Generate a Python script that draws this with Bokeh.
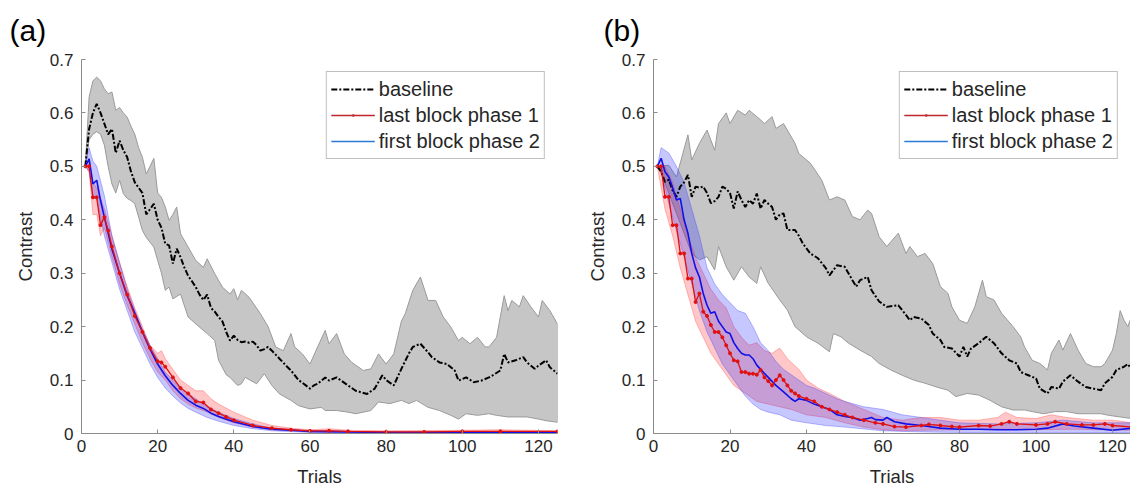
from bokeh.plotting import figure
from bokeh.layouts import row
from bokeh.models import Legend, LegendItem, FixedTicker
from bokeh.embed import file_html
from bokeh.resources import INLINE

# ---------------- Panel (a) data ----------------
a_base_t = [1,2,3,4,5,6,7,8,9,10,11,12,13,14,15,16,17,18,19,20,21,22,23,24,25,26,27,28,29,30,31,32,33,34,35,36,37,38,39,40,41,42,43,44,45,46,47,48,49,50,52,54,55,57,58,60,61,62,64,65,67,68,70,72,73,75,77,79,80,82,84,86,87,89,91,92,94,96,98,99,101,103,105,107,108,110,111,112,114,116,117,119,120,122,123,125]
a_base_y = [0.50,0.57,0.60,0.617,0.60,0.58,0.56,0.57,0.525,0.548,0.53,0.517,0.49,0.47,0.46,0.45,0.41,0.42,0.43,0.40,0.385,0.355,0.352,0.318,0.346,0.33,0.311,0.295,0.285,0.274,0.26,0.25,0.26,0.235,0.228,0.218,0.21,0.19,0.174,0.183,0.175,0.171,0.172,0.170,0.172,0.165,0.155,0.158,0.162,0.155,0.14,0.125,0.118,0.10,0.095,0.084,0.09,0.093,0.105,0.099,0.105,0.10,0.09,0.08,0.078,0.074,0.084,0.109,0.10,0.09,0.121,0.15,0.162,0.168,0.152,0.143,0.133,0.13,0.118,0.099,0.105,0.096,0.099,0.105,0.109,0.118,0.149,0.133,0.137,0.143,0.133,0.121,0.127,0.137,0.124,0.112]
a_base_up_t = [1,2,3,4,5,6,7,8,9,10,11,12,13,14,15,16,17,18,19,20,21,22,23,24,25,26,28,30,32,33,35,37,39,40,41,42,44,47,49,51,53,55,56,58,60,62,64,65,67,69,71,74,76,78,80,82,84,85,87,89,91,93,95,97,99,100,102,104,106,107,109,111,112,113,115,116,118,120,121,123,125]
a_base_up = [0.5,0.63,0.66,0.667,0.66,0.645,0.636,0.639,0.605,0.61,0.60,0.592,0.575,0.56,0.535,0.517,0.486,0.50,0.515,0.45,0.442,0.424,0.399,0.41,0.424,0.374,0.349,0.324,0.311,0.327,0.299,0.274,0.261,0.271,0.25,0.268,0.255,0.224,0.20,0.162,0.155,0.187,0.162,0.149,0.13,0.162,0.193,0.168,0.187,0.149,0.133,0.118,0.121,0.149,0.13,0.149,0.21,0.224,0.268,0.293,0.249,0.249,0.218,0.199,0.174,0.18,0.168,0.18,0.162,0.162,0.18,0.258,0.23,0.249,0.237,0.258,0.237,0.218,0.249,0.23,0.205]
a_base_lo_t = [1,2,3,4,5,6,7,8,9,10,11,12,13,14,15,16,17,19,20,21,22,23,24,26,28,31,33,35,36,38,39,41,42,43,46,48,50,52,55,57,60,63,64,67,70,72,76,78,81,84,86,88,91,94,97,99,101,104,107,109,112,114,117,120,122,125]
a_base_lo = [0.5,0.55,0.56,0.565,0.56,0.54,0.50,0.467,0.45,0.474,0.449,0.44,0.436,0.43,0.405,0.38,0.367,0.349,0.324,0.30,0.268,0.274,0.252,0.261,0.218,0.199,0.187,0.174,0.137,0.11,0.105,0.09,0.093,0.105,0.093,0.112,0.09,0.074,0.062,0.052,0.046,0.049,0.043,0.043,0.04,0.037,0.043,0.059,0.056,0.062,0.056,0.062,0.049,0.043,0.034,0.027,0.037,0.034,0.037,0.034,0.031,0.031,0.031,0.027,0.024,0.021]

a_red_t = [1,2,3,4,5,6,7,8,10,12,14,16,18,20,21,22,24,26,28,30,32,34,36,38,40,45,50,55,60,65,70,80,90,100,110,125]
a_red_y = [0.5,0.5,0.442,0.442,0.39,0.405,0.38,0.35,0.30,0.26,0.22,0.19,0.16,0.135,0.133,0.125,0.105,0.085,0.075,0.06,0.058,0.045,0.038,0.031,0.025,0.015,0.010,0.007,0.005,0.005,0.004,0.003,0.003,0.004,0.004,0.004]
a_red_up_t = [1,2,3,4,6,8,10,12,14,16,18,20,21,22,24,26,28,30,32,34,36,40,45,50,55,60,65,70,80,100,110,125]
a_red_up = [0.5,0.51,0.47,0.46,0.42,0.37,0.32,0.275,0.235,0.20,0.165,0.15,0.155,0.14,0.12,0.10,0.09,0.08,0.08,0.065,0.055,0.04,0.025,0.015,0.01,0.007,0.009,0.006,0.005,0.006,0.007,0.005]
a_red_lo_t = [1,2,3,4,5,6,8,10,12,14,16,18,20,22,24,26,28,30,33,36,40,45,50,60,125]
a_red_lo = [0.5,0.49,0.41,0.41,0.37,0.385,0.33,0.28,0.24,0.205,0.17,0.14,0.115,0.10,0.08,0.065,0.055,0.048,0.04,0.03,0.02,0.012,0.007,0.003,0.001]

a_blue_t = [1,2,3,4,5,6,7,8,10,12,14,16,18,20,22,24,26,28,30,32,34,36,40,45,50,55,60,70,80,100,125]
a_blue_y = [0.5,0.514,0.467,0.474,0.436,0.405,0.375,0.345,0.30,0.258,0.225,0.19,0.158,0.13,0.108,0.09,0.075,0.062,0.053,0.047,0.038,0.032,0.022,0.013,0.008,0.006,0.004,0.003,0.002,0.002,0.002]
a_blue_up_t = [1,2,3,4,6,8,10,12,14,16,18,20,22,24,26,28,30,33,36,40,45,50,60,80,125]
a_blue_up = [0.5,0.535,0.51,0.50,0.445,0.37,0.32,0.27,0.23,0.195,0.165,0.14,0.115,0.10,0.085,0.075,0.065,0.05,0.04,0.028,0.018,0.01,0.005,0.003,0.003]
a_blue_lo_t = [1,2,3,4,6,8,10,12,14,16,18,20,22,24,26,28,30,33,36,40,45,50,60,125]
a_blue_lo = [0.5,0.49,0.44,0.44,0.37,0.32,0.27,0.23,0.19,0.16,0.13,0.105,0.085,0.07,0.057,0.047,0.04,0.03,0.023,0.015,0.009,0.005,0.002,0.001]

# ---------------- Panel (b) data ----------------
b_base_t = [1,2,3,4,5,6,7,8,9,10,11,12,13,14,15,16,17,18,19,20,21,22,23,24,25,26,27,28,29,30,31,32,33,34,35,37,38,39,41,43,45,46,48,50,52,53,54,56,57,59,61,64,66,67,68,70,72,73,75,76,78,80,81,82,83,85,87,89,91,93,95,96,98,100,101,103,104,106,107,109,111,113,115,117,118,120,121,123,124,125]
b_base_y = [0.5,0.49,0.471,0.475,0.455,0.443,0.462,0.47,0.484,0.443,0.462,0.46,0.462,0.45,0.431,0.435,0.443,0.462,0.458,0.45,0.421,0.453,0.437,0.424,0.437,0.43,0.449,0.421,0.437,0.43,0.424,0.40,0.41,0.412,0.381,0.381,0.37,0.356,0.337,0.328,0.31,0.296,0.315,0.312,0.287,0.275,0.287,0.293,0.268,0.247,0.237,0.24,0.222,0.212,0.218,0.215,0.203,0.187,0.175,0.162,0.159,0.144,0.162,0.144,0.159,0.169,0.181,0.169,0.15,0.137,0.131,0.115,0.109,0.103,0.084,0.075,0.087,0.084,0.097,0.109,0.097,0.087,0.084,0.081,0.094,0.106,0.119,0.125,0.13,0.12]
b_base_up_t = [1,4,6,9,10,12,14,16,17,19,20,22,24,25,27,28,29,31,32,34,37,38,41,44,46,48,50,52,54,56,57,59,61,64,66,67,69,71,73,75,77,78,80,82,84,86,87,89,91,94,96,97,99,101,103,104,106,107,109,111,113,115,117,118,120,121,122,123,124,125]
b_base_up = [0.5,0.502,0.48,0.559,0.512,0.543,0.568,0.53,0.58,0.60,0.58,0.605,0.596,0.605,0.593,0.587,0.58,0.593,0.571,0.58,0.543,0.524,0.506,0.474,0.437,0.443,0.437,0.406,0.40,0.418,0.412,0.368,0.35,0.375,0.337,0.35,0.331,0.337,0.318,0.275,0.262,0.237,0.212,0.206,0.237,0.287,0.256,0.25,0.225,0.20,0.181,0.162,0.137,0.131,0.119,0.15,0.175,0.156,0.187,0.156,0.131,0.125,0.125,0.131,0.156,0.187,0.23,0.212,0.20,0.22]
b_base_lo_t = [1,2,4,6,8,10,12,14,16,17,19,21,23,25,27,28,30,33,35,37,40,43,46,47,49,51,54,57,59,62,65,68,71,74,77,79,82,85,88,91,94,97,99,102,105,108,111,114,117,119,122,125]
b_base_lo = [0.5,0.487,0.45,0.412,0.375,0.337,0.325,0.331,0.306,0.35,0.312,0.287,0.312,0.293,0.281,0.312,0.281,0.25,0.231,0.20,0.181,0.169,0.153,0.187,0.181,0.169,0.156,0.144,0.131,0.119,0.109,0.10,0.094,0.087,0.081,0.069,0.075,0.072,0.062,0.05,0.044,0.044,0.041,0.037,0.041,0.041,0.037,0.037,0.037,0.034,0.031,0.028]

b_red_t = [1,2,3,4,5,6,7,8,9,10,11,12,13,14,15,16,17,18,19,20,21,22,23,24,25,26,27,28,29,30,31,32,33,34,35,36,37,38,40,42,44,46,48,50,52,55,58,60,63,66,70,72,75,78,80,85,88,91,93,95,100,103,105,108,112,115,118,120,125]
b_red_y = [0.5,0.5,0.443,0.443,0.39,0.39,0.337,0.337,0.29,0.29,0.246,0.262,0.228,0.22,0.203,0.19,0.19,0.18,0.165,0.15,0.137,0.135,0.115,0.115,0.112,0.112,0.11,0.119,0.105,0.098,0.09,0.10,0.109,0.10,0.09,0.08,0.075,0.07,0.065,0.06,0.05,0.045,0.04,0.035,0.03,0.025,0.02,0.018,0.013,0.012,0.015,0.017,0.015,0.013,0.012,0.015,0.014,0.018,0.022,0.018,0.016,0.018,0.022,0.018,0.016,0.016,0.018,0.015,0.012]
b_red_up_t = [1,3,5,7,9,11,13,15,17,19,21,23,25,27,29,31,33,35,38,40,43,46,50,55,60,65,70,75,80,85,90,92,95,100,104,108,115,120,125]
b_red_up = [0.5,0.5,0.47,0.42,0.37,0.33,0.30,0.27,0.25,0.235,0.20,0.18,0.165,0.17,0.155,0.15,0.16,0.14,0.12,0.10,0.085,0.075,0.06,0.045,0.03,0.025,0.03,0.03,0.025,0.025,0.03,0.04,0.03,0.028,0.035,0.03,0.025,0.025,0.02]
b_red_lo_t = [1,3,5,7,9,11,13,15,17,19,21,23,25,27,30,33,36,40,45,50,55,60,65,70,80,90,100,110,125]
b_red_lo = [0.5,0.42,0.37,0.31,0.26,0.21,0.18,0.15,0.13,0.11,0.09,0.08,0.07,0.06,0.055,0.05,0.045,0.035,0.03,0.02,0.012,0.007,0.005,0.006,0.007,0.008,0.007,0.008,0.006]

b_blue_t = [1,2,3,4,5,6,7,8,9,10,11,12,13,14,15,16,17,18,19,20,21,22,23,24,25,26,27,28,30,32,34,36,37,38,40,42,44,46,48,50,52,54,56,57,58,60,61,63,66,70,75,80,85,90,95,100,103,107,110,115,120,125]
b_blue_y = [0.5,0.515,0.49,0.48,0.46,0.437,0.44,0.40,0.375,0.337,0.31,0.293,0.262,0.24,0.225,0.228,0.21,0.20,0.19,0.187,0.17,0.159,0.15,0.147,0.147,0.14,0.128,0.12,0.105,0.09,0.078,0.065,0.06,0.065,0.062,0.055,0.05,0.045,0.035,0.032,0.03,0.025,0.028,0.03,0.026,0.025,0.03,0.022,0.018,0.015,0.01,0.008,0.008,0.007,0.007,0.008,0.01,0.018,0.014,0.01,0.006,0.01]
b_blue_up_t = [1,2,4,6,8,10,12,14,16,18,20,22,24,26,28,30,32,34,36,38,40,42,45,48,50,55,60,65,70,75,80,90,100,107,115,125]
b_blue_up = [0.5,0.535,0.525,0.50,0.47,0.42,0.37,0.31,0.28,0.26,0.245,0.23,0.225,0.20,0.17,0.155,0.135,0.12,0.11,0.10,0.09,0.085,0.075,0.065,0.06,0.05,0.045,0.035,0.03,0.025,0.02,0.018,0.02,0.025,0.02,0.02]
b_blue_lo_t = [1,2,4,6,8,10,12,14,16,18,20,22,24,26,28,30,33,36,40,45,50,60,70,80,100,125]
b_blue_lo = [0.5,0.49,0.43,0.38,0.33,0.28,0.23,0.19,0.16,0.13,0.11,0.09,0.07,0.055,0.045,0.04,0.035,0.025,0.02,0.015,0.012,0.005,0.003,0.002,0.001,0.002]

y_ticks = [0, 0.1, 0.2, 0.3, 0.4, 0.5, 0.6, 0.7]
y_tick_labels = ["0", "0.1", "0.2", "0.3", "0.4", "0.5", "0.6", "0.7"]
x_ticks = [0, 20, 40, 60, 80, 100, 120]
legend_labels = ["baseline", "last block phase 1", "first block phase 2"]

FONT = "Liberation Sans"
TXT = "#262626"
AXC = "#8c8c8c"


def band(p, t_up, up, t_lo, lo, fill, alpha, line_color, line_alpha):
    xs = list(t_up) + list(reversed(t_lo))
    ys = list(up) + list(reversed(lo))
    p.patch(xs, ys, fill_color=fill, fill_alpha=alpha,
            line_color=line_color, line_alpha=line_alpha, line_width=1)


def panel(tag, x_end, frame_w, b_left, b_right, d, tag_off):
    p = figure(x_range=(0, x_end), y_range=(0, 0.7),
               frame_width=frame_w, frame_height=374,
               min_border_left=b_left, min_border_right=b_right,
               min_border_top=59, min_border_bottom=54,
               output_backend="svg", toolbar_location=None,
               background_fill_color="white", border_fill_color="white",
               title=tag)
    p.outline_line_color = None
    p.grid.visible = False
    p.title.text_font = FONT
    p.title.text_font_size = "30px"
    p.title.text_font_style = "normal"
    p.title.text_color = "black"
    p.title.align = "left"
    p.title.vertical_align = "top"
    p.title.offset = tag_off
    p.title.standoff = 22

    band(p, d["bu_t"], d["bu"], d["bl_t"], d["bl"], "#c6c6c6", 1.0, "#9a9a9a", 1.0)
    band(p, d["ru_t"], d["ru"], d["rl_t"], d["rl"], "#ff2020", 0.25, "#ff4040", 0.35)
    band(p, d["gu_t"], d["gu"], d["gl_t"], d["gl"], "#2020ff", 0.25, "#4040ff", 0.35)
    p.line(d["b_t"], d["b_y"], line_color="black", line_width=2, line_dash="6 2 2 2")
    p.line(d["g_t"], d["g_y"], line_color="#1010e8", line_width=1.6)
    p.line(d["r_t"], d["r_y"], line_color="#e01010", line_width=1.3)
    p.scatter(d["r_t"], d["r_y"], size=3, color="#e01010")

    # legend proxies (off-screen), drawn with the legend's own colours
    ox, oy = [-50, -40], [-1, -1]
    l1 = p.line(ox, oy, line_color="black", line_width=2, line_dash="6 2 2 2")
    l2 = p.line(ox, oy, line_color="#c0272d", line_width=1.5)
    l2m = p.scatter([-45], [-1], marker="dot", size=4, color="#c0272d")
    l3 = p.line(ox, oy, line_color="#2a7bd5", line_width=1.5)
    leg = Legend(items=[LegendItem(label=legend_labels[0], renderers=[l1]),
                        LegendItem(label=legend_labels[1], renderers=[l2, l2m]),
                        LegendItem(label=legend_labels[2], renderers=[l3])],
                 location="top_right", margin=12, padding=4, spacing=0,
                 glyph_width=44, glyph_height=26, label_height=26,
                 label_standoff=4,
                 label_text_font=FONT, label_text_font_size="20px",
                 label_text_color=TXT,
                 border_line_color="#7f7f7f", border_line_width=1,
                 background_fill_color="white", background_fill_alpha=1.0)
    p.add_layout(leg, "center")

    for ax in (p.xaxis[0], p.yaxis[0]):
        ax.axis_line_color = AXC
        ax.major_tick_line_color = AXC
        ax.major_tick_in = 4
        ax.major_tick_out = 0
        ax.minor_tick_line_color = None
        ax.major_label_text_font = FONT
        ax.major_label_text_font_size = "17px"
        ax.major_label_text_color = TXT
        ax.axis_label_text_font = FONT
        ax.axis_label_text_font_size = "18.5px"
        ax.axis_label_text_font_style = "normal"
        ax.axis_label_text_color = TXT

    p.xaxis.ticker = FixedTicker(ticks=x_ticks)
    p.yaxis.ticker = FixedTicker(ticks=y_ticks)
    p.yaxis.major_label_overrides = {t: s for t, s in zip(y_ticks, y_tick_labels)}
    p.xaxis.axis_label = "Trials"
    p.yaxis.axis_label = "Contrast"
    p.xaxis.major_label_standoff = 6
    p.xaxis.axis_label_standoff = 11
    p.yaxis.major_label_standoff = 8
    p.yaxis.axis_label_standoff = 11
    return p


da = dict(b_t=a_base_t, b_y=a_base_y, bu_t=a_base_up_t, bu=a_base_up, bl_t=a_base_lo_t, bl=a_base_lo,
          r_t=a_red_t, r_y=a_red_y, ru_t=a_red_up_t, ru=a_red_up, rl_t=a_red_lo_t, rl=a_red_lo,
          g_t=a_blue_t, g_y=a_blue_y, gu_t=a_blue_up_t, gu=a_blue_up, gl_t=a_blue_lo_t, gl=a_blue_lo)
db = dict(b_t=b_base_t, b_y=b_base_y, bu_t=b_base_up_t, bu=b_base_up, bl_t=b_base_lo_t, bl=b_base_lo,
          r_t=b_red_t, r_y=b_red_y, ru_t=b_red_up_t, ru=b_red_up, rl_t=b_red_lo_t, rl=b_red_lo,
          g_t=b_blue_t, g_y=b_blue_y, gu_t=b_blue_up_t, gu=b_blue_up, gl_t=b_blue_lo_t, gl=b_blue_lo)

pa = panel("(a)", 125, 476, 81, 10, da, -72)
pb = panel("(b)", 124.7, 477, 86, 0, db, -50)

layout = row(pa, pb)
open("out.html", "w").write(file_html(layout, INLINE))
